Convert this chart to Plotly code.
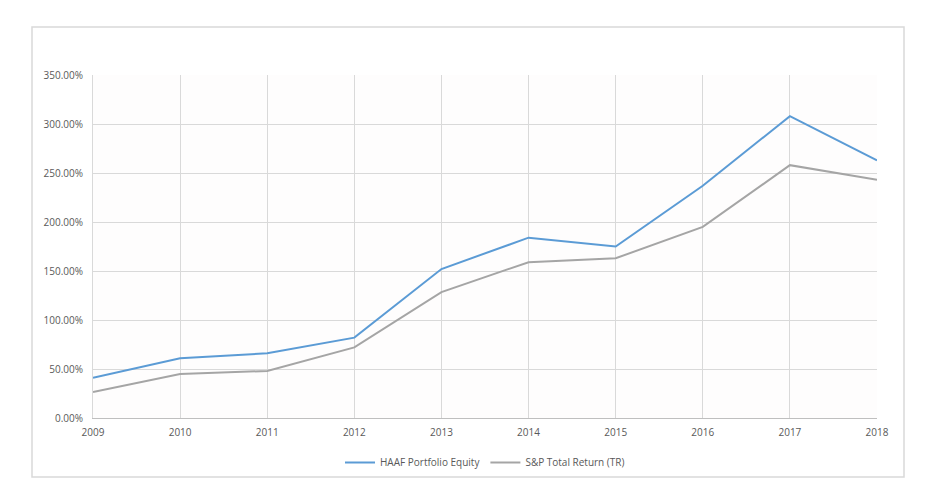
import plotly.graph_objects as go

years = [2009, 2010, 2011, 2012, 2013, 2014, 2015, 2016, 2017, 2018]
haaf = [41, 61, 66, 82, 152, 184, 175, 237, 308, 263]
sp_tr = [26.5, 45, 48, 72, 128.5, 159, 163, 195, 258, 243]
y_ticks = [0, 50, 100, 150, 200, 250, 300, 350]
y_labels = ["0.00%", "50.00%", "100.00%", "150.00%", "200.00%", "250.00%", "300.00%", "350.00%"]

fig = go.Figure()
fig.add_trace(go.Scatter(x=years, y=haaf, mode="lines", name="HAAF Portfolio Equity",
                         line=dict(color="#5b9bd5", width=2)))
fig.add_trace(go.Scatter(x=years, y=sp_tr, mode="lines", name="S&P Total Return (TR)",
                         line=dict(color="#a5a5a5", width=2)))

OFF = 8  # page body margin
W, H = 929, 504
L, T = 93 - OFF, 75 - OFF
R = W - (877 - OFF)
B = H - (418 - OFF)
pw, ph = W - L - R, H - T - B

def px_x(x):
    return (x - OFF - L) / pw

def px_y(y):
    return (T + ph - (y - OFF)) / ph

fig.update_layout(
    width=W, height=H,
    margin=dict(l=L, r=R, t=T, b=B),
    paper_bgcolor="white",
    plot_bgcolor="#fefdfd",
    font=dict(family="Open Sans, Liberation Sans, sans-serif", size=10, color="#595959"),
    showlegend=True,
    legend=dict(orientation="h", x=0.5, xanchor="center", y=px_y(448), yanchor="top",
                bgcolor="rgba(0,0,0,0)", tracegroupgap=0,
                font=dict(size=10, color="#595959"), itemwidth=30),
    xaxis=dict(range=[2009, 2018], tickvals=years, ticktext=[str(y) for y in years],
               showgrid=True, gridcolor="#d9d9d9", gridwidth=1,
               showline=True, linecolor="#bfbfbf", linewidth=1,
               zeroline=False, ticks="", tickfont=dict(size=10),
               ticklabelstandoff=5),
    yaxis=dict(range=[0, 350], tickvals=y_ticks, ticktext=y_labels,
               showgrid=True, gridcolor="#d9d9d9", gridwidth=1,
               showline=True, linecolor="#d9d9d9", zeroline=False, ticks="",
               tickfont=dict(size=10), ticklabelstandoff=7),
    shapes=[dict(type="rect", xref="paper", yref="paper",
                 x0=px_x(32), x1=px_x(904),
                 y0=px_y(477), y1=px_y(27),
                 line=dict(color="#d9d9d9", width=1.5), fillcolor="rgba(0,0,0,0)",
                 layer="below")],
)

fig.write_html("out.html")
